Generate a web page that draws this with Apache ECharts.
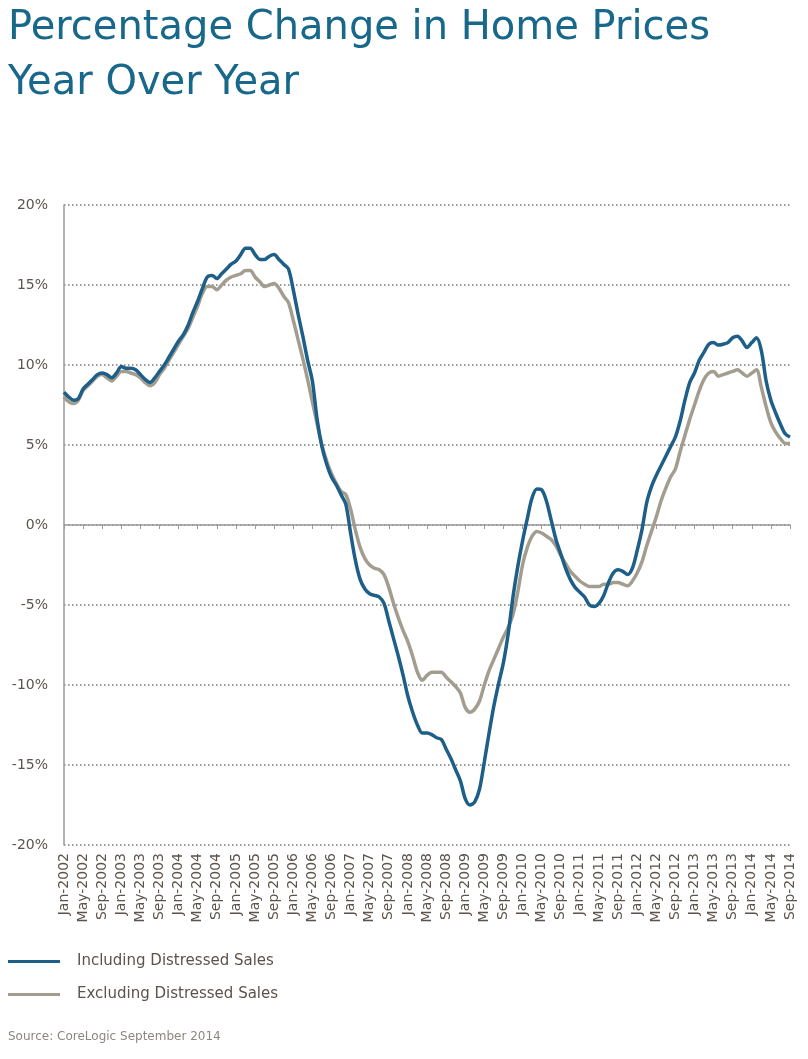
<!DOCTYPE html>
<html>
<head>
<meta charset="utf-8">
<script src="https://cdn.jsdelivr.net/npm/echarts@6/dist/echarts.min.js"></script>
<style>
html,body{margin:0;padding:0;background:#fff;}
#chart{width:808px;height:1059px;}
</style>
</head>
<body>
<div id="chart"></div>
<script>
const monthNames = ['Jan','Feb','Mar','Apr','May','Jun','Jul','Aug','Sep','Oct','Nov','Dec'];
const startYear = 2002;
const monthCount = 153; // Jan-2002 .. Sep-2014
const categories = [];
for (let i = 0; i < monthCount; i++) {
  categories.push(monthNames[i % 12] + '-' + (startYear + Math.floor(i / 12)));
}

const includingDistressed = [
  8.3, 8.0, 7.8, 7.9, 8.5, 8.8, 9.1, 9.4, 9.5, 9.4, 9.2, 9.5,
  9.9, 9.8, 9.8, 9.7, 9.4, 9.1, 8.9, 9.2, 9.6, 10.0, 10.5, 11.0,
  11.5, 11.9, 12.5, 13.3, 14.0, 14.8, 15.5, 15.6, 15.4, 15.7, 16.0, 16.3,
  16.5, 16.9, 17.3, 17.3, 16.9, 16.6, 16.6, 16.8, 16.9, 16.6, 16.3, 16.0,
  14.7, 13.2, 11.8, 10.3, 9.0, 6.6, 4.9, 3.8, 3.0, 2.5, 1.9, 1.3,
  -0.5, -2.2, -3.4, -4.0, -4.3, -4.4, -4.5, -4.9, -6.0, -7.1, -8.2, -9.4,
  -10.7, -11.7, -12.5, -13.0, -13.0, -13.1, -13.3, -13.4, -14.0, -14.6, -15.3, -16.0,
  -17.1, -17.5, -17.3, -16.5, -14.8, -13.0, -11.3, -9.9, -8.6, -6.8, -4.5, -2.6,
  -1.0, 0.4, 1.7, 2.25, 2.2, 1.5, 0.3, -0.9, -1.8, -2.7, -3.4, -3.9,
  -4.2, -4.5, -5.0, -5.1, -4.9, -4.4, -3.6, -3.0, -2.8, -2.9, -3.1, -2.7,
  -1.6, -0.3, 1.4, 2.4, 3.1, 3.7, 4.3, 4.9, 5.5, 6.5, 7.8, 8.9,
  9.5, 10.3, 10.8, 11.3, 11.4, 11.25, 11.3, 11.4, 11.7, 11.8, 11.5, 11.1,
  11.4, 11.7, 10.9, 9.0, 7.8, 7.0, 6.3, 5.7, 5.5
];

const excludingDistressed = [
  8.0, 7.7, 7.6, 7.8, 8.4, 8.7, 9.0, 9.3, 9.4, 9.2, 9.0, 9.3,
  9.6, 9.6, 9.5, 9.4, 9.2, 8.9, 8.7, 8.9, 9.4, 9.8, 10.3, 10.8,
  11.3, 11.8, 12.3, 13.0, 13.7, 14.5, 14.9, 14.9, 14.7, 15.0, 15.3, 15.5,
  15.6, 15.7, 15.9, 15.9, 15.5, 15.2, 14.9, 15.0, 15.1, 14.8, 14.3, 13.9,
  12.8, 11.6, 10.4, 9.1, 7.7, 6.3, 5.0, 4.0, 3.2, 2.6, 2.1, 1.9,
  1.0, -0.3, -1.4, -2.1, -2.5, -2.7, -2.8, -3.1, -3.9, -4.9, -5.8, -6.6,
  -7.3, -8.2, -9.2, -9.7, -9.4, -9.2, -9.2, -9.2, -9.5, -9.8, -10.1, -10.5,
  -11.4, -11.7, -11.5, -11.0, -10.0, -9.1, -8.4, -7.7, -7.0, -6.4, -5.6, -4.2,
  -2.5, -1.4, -0.7, -0.4, -0.5, -0.7, -0.9, -1.3, -1.9, -2.4, -2.9, -3.2,
  -3.5, -3.7, -3.85, -3.85, -3.85, -3.7, -3.7, -3.6, -3.6, -3.7, -3.8, -3.5,
  -3.0, -2.3, -1.3, -0.4, 0.5, 1.5, 2.3, 3.0, 3.5, 4.6, 5.6, 6.6,
  7.5, 8.4, 9.1, 9.5, 9.6, 9.3, 9.4, 9.5, 9.6, 9.7, 9.5, 9.3,
  9.5, 9.7, 8.6, 7.4, 6.4, 5.8, 5.4, 5.1, 5.1
];

const yTicks = { min: -20, max: 20, step: 5 };
const titleText = 'Percentage Change in Home Prices\nYear Over Year';
const seriesNames = ['Including Distressed Sales', 'Excluding Distressed Sales'];
const sourceText = 'Source: CoreLogic September 2014';

const FONT = '"DejaVu Sans", sans-serif';
const TXT = '#5b534c';
const BLUE = '#1d5f89';
const GRAY = '#a39d90';

const chart = echarts.init(document.getElementById('chart'), null, {renderer: 'canvas'});
chart.setOption({
  backgroundColor: '#ffffff',
  animation: false,
  title: {
    text: titleText,
    left: 8,
    top: 1,
    padding: 0,
    textStyle: {
      fontFamily: FONT,
      fontWeight: 'normal',
      fontSize: 40,
      lineHeight: 55,
      color: '#17688a'
    }
  },
  legend: {
    orient: 'vertical',
    left: 8,
    top: 954,
    padding: 0,
    itemWidth: 52,
    itemHeight: 3,
    itemGap: 18,
    icon: 'rect',
    data: seriesNames,
    textStyle: {
      fontFamily: FONT,
      fontSize: 15,
      color: TXT,
      padding: [0, 0, 0, 12]
    }
  },
  graphic: [{
    type: 'text',
    left: 8,
    top: 1031,
    style: {
      text: sourceText,
      fontFamily: FONT,
      fontSize: 12,
      fill: '#8c8680'
    }
  }],
  grid: {
    left: 64,
    right: 18,
    top: 205,
    bottom: 214,
    containLabel: false
  },
  xAxis: [{
    type: 'category',
    data: categories,
    boundaryGap: false,
    position: 'bottom',
    axisLine: { show: false, onZero: false },
    axisTick: { show: false },
    splitLine: { show: false },
    axisLabel: {
      interval: 3,
      rotate: 90,
      margin: 8,
      fontFamily: FONT,
      fontSize: 14,
      color: TXT
    }
  }, {
    type: 'category',
    data: categories,
    boundaryGap: false,
    position: 'bottom',
    axisLine: { show: true, onZero: true, onZeroAxisIndex: 0, lineStyle: { color: '#9b9b9b', width: 1.5 } },
    axisTick: { show: true, interval: 3, length: 4, inside: false, lineStyle: { color: '#9b9b9b', width: 1 } },
    axisLabel: { show: false },
    splitLine: { show: false }
  }],
  yAxis: {
    type: 'value',
    min: yTicks.min,
    max: yTicks.max,
    interval: yTicks.step,
    axisLine: { show: true, lineStyle: { color: '#9b9b9b', width: 1.5 } },
    axisTick: { show: false },
    axisLabel: {
      formatter: '{value}%',
      margin: 16,
      fontFamily: FONT,
      fontSize: 14,
      color: TXT
    },
    splitLine: {
      show: true,
      lineStyle: { color: '#7d7770', type: [1.5, 2.5], width: 1.5 }
    }
  },
  series: [{
    name: seriesNames[0],
    type: 'line',
    xAxisIndex: 0,
    data: includingDistressed,
    symbol: 'none',
    smooth: 0.3,
    color: BLUE,
    lineStyle: { color: BLUE, width: 3.5 },
    z: 3
  }, {
    name: seriesNames[1],
    type: 'line',
    xAxisIndex: 0,
    data: excludingDistressed,
    symbol: 'none',
    smooth: 0.3,
    color: GRAY,
    lineStyle: { color: GRAY, width: 3.5 },
    z: 2
  }]
});
</script>
</body>
</html>
